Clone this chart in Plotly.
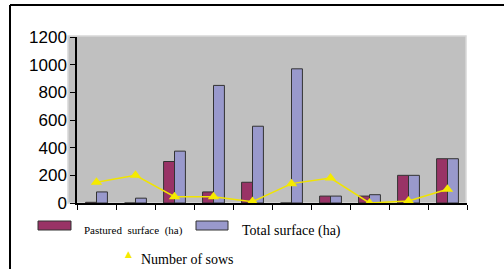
import plotly.graph_objects as go

categories = ["1", "2", "3", "4", "5", "6", "7", "8", "9", "10"]
pastured_surface = [5, 0, 300, 80, 150, 0, 50, 50, 200, 320]
total_surface = [80, 35, 375, 850, 555, 970, 50, 60, 200, 320]
number_of_sows = [150, 200, 45, 45, 10, 140, 180, 0, 15, 100]
y_ticks = [0, 200, 400, 600, 800, 1000, 1200]

W, H = 504, 269
L, R, T, B = 77, 467, 37, 203
pw, ph = R - L, B - T


def px(x):
    return (x - L) / pw


def py(y):
    return (B - y) / ph


fig = go.Figure()
fig.add_trace(go.Bar(x=categories, y=pastured_surface, name="Pastured surface (ha)",
                     marker=dict(color="#993366", line=dict(color="#333333", width=1))))
fig.add_trace(go.Bar(x=categories, y=total_surface, name="Total surface (ha)",
                     marker=dict(color="#9999cc", line=dict(color="#333333", width=1))))
fig.add_trace(go.Scatter(x=categories, y=number_of_sows, name="Number of sows", mode="lines+markers",
                         line=dict(color="#f0e400", width=1.5),
                         marker=dict(symbol="triangle-up", size=10, color="#f5ea00")))

shapes = [
    # gray plot background
    dict(type="rect", xref="paper", yref="paper", x0=px(68), x1=px(466), y0=0, y1=py(36),
         fillcolor="#c0c0c0", line=dict(color="#d8d8d8", width=1.5), layer="below"),
    # outer frame
    dict(type="line", xref="paper", yref="paper", x0=px(10), x1=px(504), y0=py(5), y1=py(5),
         line=dict(color="black", width=2)),
    dict(type="line", xref="paper", yref="paper", x0=px(10), x1=px(10), y0=py(5), y1=py(269),
         line=dict(color="black", width=2)),
    # legend swatches
    dict(type="rect", xref="paper", yref="paper", x0=px(38), x1=px(71), y0=py(230), y1=py(221),
         fillcolor="#993366", line=dict(color="#333333", width=1)),
    dict(type="rect", xref="paper", yref="paper", x0=px(196), x1=px(228), y0=py(230), y1=py(221),
         fillcolor="#9999cc", line=dict(color="#333333", width=1)),
]

serif = "Liberation Serif, Times New Roman, serif"
annotations = [
    dict(text="Pastured&nbsp; surface&nbsp; (ha)", x=px(82), y=py(231), xref="paper", yref="paper",
         xanchor="left", yanchor="middle", showarrow=False, font=dict(family=serif, size=11, color="black")),
    dict(text="Total surface (ha)", x=px(240), y=py(231), xref="paper", yref="paper",
         xanchor="left", yanchor="middle", showarrow=False, font=dict(family=serif, size=14, color="black")),
    dict(text="Number of sows", x=px(139), y=py(259), xref="paper", yref="paper",
         xanchor="left", yanchor="middle", showarrow=False, font=dict(family=serif, size=14, color="black")),
    dict(text="▲", x=px(128), y=py(254), xref="paper", yref="paper",
         xanchor="center", yanchor="middle", showarrow=False, font=dict(family="DejaVu Sans", size=9, color="#f5ea00")),
]

fig.update_layout(
    width=W, height=H,
    margin=dict(l=L, r=W - R, t=T, b=H - B, pad=0),
    paper_bgcolor="white", plot_bgcolor="rgba(0,0,0,0)",
    showlegend=False,
    barmode="group", bargap=0.44, bargroupgap=0,
    shapes=shapes, annotations=annotations,
    xaxis=dict(type="category", showticklabels=False, tickson="boundaries", ticks="outside",
               ticklen=5, tickcolor="black", showline=True, linecolor="black", linewidth=1.5,
               showgrid=False, zeroline=False, range=[-0.5, 9.5]),
    yaxis=dict(range=[0, 1200], tickvals=y_ticks, ticks="outside", ticklen=5, tickcolor="black",
               showline=True, linecolor="black", linewidth=1.5, showgrid=False, zeroline=False,
               tickfont=dict(family="Liberation Sans, Arial, sans-serif", size=17, color="black")),
)

fig.write_html("out.html", config={"displayModeBar": False},
               post_script="document.body.style.margin='0';document.body.style.padding='0';"
                           "document.body.style.overflow='hidden';")
